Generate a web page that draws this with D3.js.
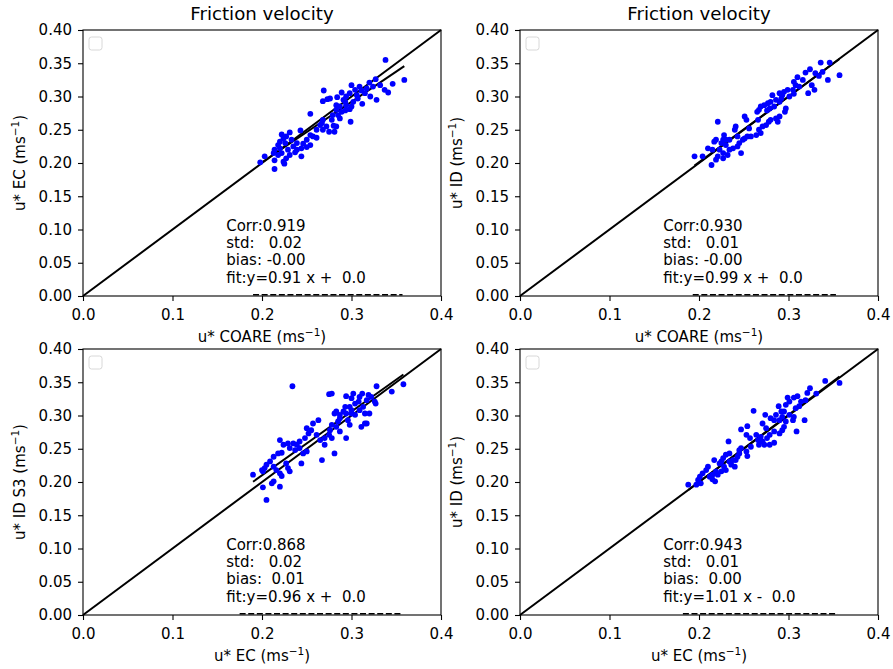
<!DOCTYPE html>
<html>
<head>
<meta charset="utf-8">
<script src="https://cdn.jsdelivr.net/npm/d3@7"></script>
<style>
  body { margin: 0; background: #fff; }
  text { font-family: 'DejaVu Sans', sans-serif; fill: #000; }
</style>
</head>
<body>
<div id="chart"></div>
<script>
// Data: [x, y] pairs
const ecVsCoare = [[0.338,0.355],[0.359,0.325],[0.346,0.319],[0.337,0.310],[0.341,0.306],[0.327,0.326],[0.320,0.321],[0.300,0.317],[0.309,0.315],[0.304,0.310],[0.311,0.309],[0.317,0.312],[0.269,0.309],[0.289,0.306],[0.298,0.305],[0.268,0.293],[0.273,0.296],[0.276,0.297],[0.284,0.299],[0.291,0.295],[0.321,0.300],[0.328,0.295],[0.312,0.289],[0.283,0.287],[0.287,0.285],[0.294,0.287],[0.300,0.285],[0.283,0.280],[0.289,0.277],[0.293,0.279],[0.298,0.281],[0.254,0.274],[0.279,0.272],[0.285,0.272],[0.299,0.262],[0.268,0.265],[0.267,0.260],[0.272,0.255],[0.280,0.256],[0.283,0.255],[0.268,0.250],[0.275,0.247],[0.281,0.247],[0.257,0.240],[0.261,0.238],[0.243,0.249],[0.254,0.242],[0.222,0.243],[0.227,0.240],[0.231,0.246],[0.224,0.237],[0.220,0.232],[0.218,0.227],[0.226,0.230],[0.233,0.235],[0.235,0.225],[0.239,0.230],[0.246,0.229],[0.244,0.222],[0.254,0.227],[0.250,0.224],[0.214,0.220],[0.213,0.215],[0.218,0.212],[0.222,0.215],[0.229,0.220],[0.231,0.212],[0.227,0.207],[0.224,0.202],[0.244,0.210],[0.203,0.210],[0.198,0.201],[0.214,0.204],[0.214,0.191],[0.225,0.199],[0.237,0.216],[0.306,0.302],[0.307,0.297],[0.294,0.300],[0.302,0.292],[0.278,0.265],[0.287,0.267],[0.261,0.250],[0.250,0.235],[0.239,0.220],[0.220,0.222],[0.324,0.315],[0.332,0.317],[0.315,0.305],[0.293,0.292],[0.265,0.257]];

const idVsCoare = [[0.336,0.351],[0.346,0.351],[0.324,0.341],[0.319,0.336],[0.330,0.335],[0.334,0.331],[0.344,0.325],[0.357,0.332],[0.326,0.317],[0.329,0.310],[0.322,0.305],[0.310,0.329],[0.308,0.317],[0.312,0.315],[0.305,0.310],[0.306,0.304],[0.299,0.310],[0.295,0.307],[0.290,0.305],[0.293,0.302],[0.282,0.302],[0.286,0.295],[0.290,0.292],[0.280,0.292],[0.277,0.290],[0.273,0.287],[0.269,0.285],[0.267,0.280],[0.265,0.277],[0.279,0.282],[0.284,0.285],[0.297,0.282],[0.296,0.277],[0.286,0.267],[0.280,0.265],[0.290,0.270],[0.288,0.262],[0.278,0.262],[0.275,0.257],[0.271,0.255],[0.267,0.250],[0.269,0.245],[0.264,0.242],[0.258,0.240],[0.254,0.240],[0.251,0.237],[0.249,0.235],[0.241,0.255],[0.240,0.250],[0.251,0.270],[0.253,0.265],[0.245,0.230],[0.243,0.225],[0.247,0.215],[0.238,0.222],[0.234,0.220],[0.228,0.242],[0.227,0.235],[0.219,0.235],[0.217,0.232],[0.225,0.230],[0.230,0.227],[0.223,0.220],[0.215,0.220],[0.227,0.215],[0.221,0.210],[0.227,0.207],[0.232,0.212],[0.219,0.205],[0.214,0.197],[0.210,0.222],[0.204,0.210],[0.195,0.210],[0.221,0.262],[0.230,0.235],[0.301,0.300],[0.292,0.297],[0.276,0.279],[0.266,0.265],[0.256,0.252],[0.243,0.240],[0.234,0.235],[0.306,0.322],[0.316,0.325],[0.338,0.337]];

const idS3VsEc = [[0.234,0.344],[0.328,0.344],[0.358,0.347],[0.345,0.336],[0.275,0.332],[0.278,0.333],[0.294,0.329],[0.302,0.333],[0.300,0.326],[0.312,0.333],[0.319,0.331],[0.322,0.328],[0.326,0.321],[0.327,0.318],[0.317,0.323],[0.308,0.321],[0.309,0.328],[0.304,0.318],[0.298,0.313],[0.293,0.313],[0.283,0.306],[0.281,0.303],[0.287,0.301],[0.291,0.306],[0.294,0.303],[0.300,0.308],[0.304,0.301],[0.309,0.308],[0.313,0.313],[0.315,0.303],[0.320,0.303],[0.317,0.288],[0.311,0.283],[0.315,0.288],[0.296,0.293],[0.298,0.286],[0.287,0.296],[0.285,0.291],[0.283,0.283],[0.287,0.276],[0.278,0.286],[0.276,0.278],[0.275,0.271],[0.278,0.266],[0.270,0.266],[0.270,0.256],[0.265,0.263],[0.263,0.293],[0.257,0.288],[0.250,0.281],[0.252,0.273],[0.248,0.266],[0.242,0.261],[0.239,0.256],[0.235,0.258],[0.229,0.258],[0.231,0.251],[0.237,0.248],[0.242,0.251],[0.246,0.243],[0.250,0.246],[0.244,0.228],[0.267,0.233],[0.281,0.243],[0.294,0.266],[0.224,0.256],[0.220,0.263],[0.218,0.243],[0.222,0.244],[0.213,0.238],[0.209,0.231],[0.205,0.226],[0.203,0.221],[0.200,0.218],[0.201,0.216],[0.213,0.223],[0.216,0.218],[0.220,0.213],[0.222,0.209],[0.229,0.221],[0.231,0.216],[0.227,0.228],[0.190,0.211],[0.213,0.201],[0.211,0.198],[0.220,0.193],[0.201,0.192],[0.205,0.173],[0.255,0.278],[0.261,0.271],[0.300,0.303]];

const idVsEc = [[0.341,0.352],[0.357,0.349],[0.324,0.341],[0.321,0.334],[0.310,0.329],[0.306,0.327],[0.299,0.327],[0.301,0.321],[0.314,0.321],[0.312,0.314],[0.308,0.311],[0.289,0.314],[0.292,0.306],[0.295,0.306],[0.297,0.316],[0.286,0.301],[0.274,0.301],[0.261,0.307],[0.280,0.296],[0.284,0.293],[0.290,0.293],[0.293,0.298],[0.301,0.301],[0.305,0.293],[0.306,0.298],[0.318,0.293],[0.309,0.276],[0.295,0.283],[0.293,0.278],[0.290,0.273],[0.284,0.276],[0.279,0.271],[0.275,0.281],[0.271,0.288],[0.269,0.268],[0.271,0.261],[0.267,0.256],[0.273,0.256],[0.279,0.256],[0.284,0.259],[0.276,0.266],[0.266,0.263],[0.254,0.284],[0.247,0.279],[0.253,0.271],[0.257,0.266],[0.258,0.253],[0.253,0.246],[0.254,0.239],[0.247,0.251],[0.245,0.243],[0.243,0.238],[0.241,0.233],[0.238,0.233],[0.236,0.226],[0.240,0.223],[0.234,0.243],[0.230,0.241],[0.233,0.261],[0.227,0.236],[0.225,0.231],[0.217,0.233],[0.223,0.228],[0.228,0.223],[0.230,0.218],[0.225,0.216],[0.219,0.216],[0.215,0.211],[0.221,0.211],[0.212,0.208],[0.210,0.223],[0.208,0.218],[0.204,0.213],[0.201,0.208],[0.199,0.203],[0.202,0.198],[0.215,0.204],[0.218,0.201],[0.188,0.196],[0.197,0.196],[0.297,0.291],[0.264,0.271],[0.245,0.248],[0.234,0.231],[0.319,0.323],[0.331,0.333]];

const titles = ['Friction velocity', 'Friction velocity', '', ''];
const xLabels = ['u* COARE', 'u* COARE', 'u* EC', 'u* EC'];
const yLabels = ['u* EC', 'u* ID', 'u* ID S3', 'u* ID'];
// fit lines: [slope, intercept]
const fits = [[0.91, 0.019], [0.99, 0.003], [0.96, 0.018], [1.01, -0.002]];
// dashed zero line extent [x0, x1]
const zeroLines = [[0.19, 0.357], [0.193, 0.353], [0.175, 0.357], [0.182, 0.355]];
const statsText = [
  ['Corr:0.919', 'std:   0.02', 'bias: -0.00', 'fit:y=0.91 x +  0.0'],
  ['Corr:0.930', 'std:   0.01', 'bias: -0.00', 'fit:y=0.99 x +  0.0'],
  ['Corr:0.868', 'std:   0.02', 'bias:  0.01', 'fit:y=0.96 x +  0.0'],
  ['Corr:0.943', 'std:   0.01', 'bias:  0.00', 'fit:y=1.01 x -  0.0'],
];
const xTicks = [0.0, 0.1, 0.2, 0.3, 0.4];
const yTicks = [0.00, 0.05, 0.10, 0.15, 0.20, 0.25, 0.30, 0.35, 0.40];

const panels = [ecVsCoare, idVsCoare, idS3VsEc, idVsEc];

// Base positioning
const W = 893, H = 669;
const pw = 358, ph = 266;
const lefts = [83, 520], tops = [30, 349];
const fs = '15px';

const svg = d3.select('#chart').append('svg')
  .attr('width', W)
  .attr('height', H);

panels.forEach((data, i) => {
  const g = svg.append('g')
    .attr('transform', 'translate(' + lefts[i % 2] + ',' + tops[Math.floor(i / 2)] + ')');

  const x = d3.scaleLinear().domain([0, 0.4]).range([0, pw]);
  const y = d3.scaleLinear().domain([0, 0.4]).range([ph, 0]);

  // axes
  g.append('g')
    .attr('transform', 'translate(0,' + ph + ')')
    .call(d3.axisBottom(x).tickValues(xTicks).tickFormat(d3.format('.1f')).tickSize(5).tickPadding(8))
    .call(a => a.select('.domain').remove())
    .call(a => a.selectAll('line').attr('stroke-width', 1.1))
    .call(a => a.selectAll('text').style('font-size', fs).style('font-family', 'DejaVu Sans'));
  g.append('g')
    .call(d3.axisLeft(y).tickValues(yTicks).tickFormat(d3.format('.2f')).tickSize(5).tickPadding(6))
    .call(a => a.select('.domain').remove())
    .call(a => a.selectAll('line').attr('stroke-width', 1.1))
    .call(a => a.selectAll('text').style('font-size', fs).style('font-family', 'DejaVu Sans'));

  // identity line
  g.append('line')
    .attr('x1', x(0)).attr('y1', y(0))
    .attr('x2', x(0.4)).attr('y2', y(0.4))
    .attr('stroke', '#000').attr('stroke-width', 2);

  // fit line over data range
  const [lo, hi] = d3.extent(data, d => d[0]);
  const [m, b] = fits[i];
  g.append('line')
    .attr('x1', x(lo)).attr('y1', y(m * lo + b))
    .attr('x2', x(hi)).attr('y2', y(m * hi + b))
    .attr('stroke', '#000').attr('stroke-width', 2);

  // dashed zero line
  g.append('line')
    .attr('x1', x(zeroLines[i][0])).attr('y1', y(0) - 1.2)
    .attr('x2', x(zeroLines[i][1])).attr('y2', y(0) - 1.2)
    .attr('stroke', '#000').attr('stroke-width', 1.5)
    .attr('stroke-dasharray', '6,2.6');

  // points
  g.append('g').selectAll('circle')
    .data(data)
    .enter()
    .append('circle')
    .attr('cx', d => x(d[0]))
    .attr('cy', d => y(d[1]))
    .attr('r', 2.9)
    .attr('fill', '#0000ff');

  // frame
  g.append('rect')
    .attr('width', pw).attr('height', ph)
    .attr('fill', 'none').attr('stroke', '#000').attr('stroke-width', 1.1);

  // empty legend box
  g.append('rect')
    .attr('x', 6).attr('y', 7).attr('width', 13).attr('height', 13).attr('rx', 2.5)
    .attr('fill', '#fff').attr('stroke', '#d8d8d8').attr('stroke-width', 1);

  // stats text
  const lines = statsText[i];
  lines.forEach((t, k) => {
    g.append('text')
      .attr('x', x(0.16))
      .attr('y', y(0.02) - (lines.length - 1 - k) * 17.4)
      .style('font-size', fs)
      .style('white-space', 'pre')
      .text(t);
  });

  // title
  if (titles[i]) {
    g.append('text')
      .attr('x', pw / 2).attr('y', -10)
      .attr('text-anchor', 'middle')
      .style('font-size', '18.2px')
      .text(titles[i]);
  }

  // x label
  const xl = g.append('text')
    .attr('x', pw / 2).attr('y', ph + 46)
    .attr('text-anchor', 'middle')
    .style('font-size', fs);
  xl.append('tspan').text(xLabels[i] + ' (ms');
  xl.append('tspan').attr('dy', -6).style('font-size', '10.5px').text('\u22121');
  xl.append('tspan').attr('dy', 6).text(')');

  // y label
  const yl = g.append('text')
    .attr('transform', 'translate(-58,' + ph / 2 + ') rotate(-90)')
    .attr('text-anchor', 'middle')
    .style('font-size', fs);
  yl.append('tspan').text(yLabels[i] + ' (ms');
  yl.append('tspan').attr('dy', -6).style('font-size', '10.5px').text('\u22121');
  yl.append('tspan').attr('dy', 6).text(')');
});
</script>
</body>
</html>
